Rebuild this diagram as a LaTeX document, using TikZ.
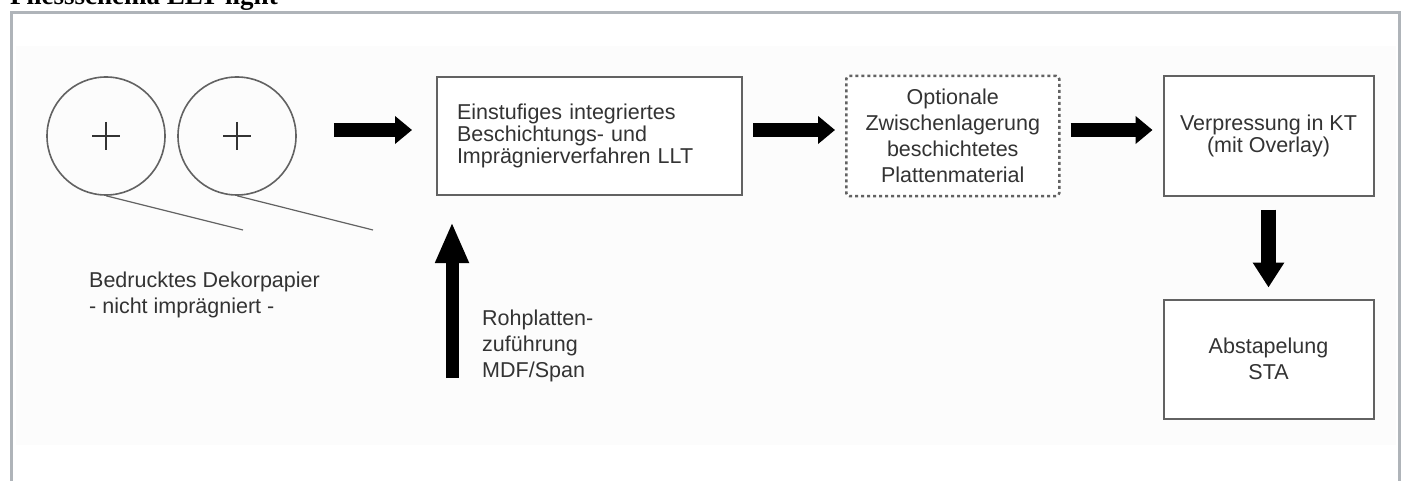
\documentclass[tikz,border=0pt]{standalone}
\usepackage{fontspec}
\setmainfont{Liberation Sans}
\newfontfamily\titlefont{Liberation Serif}
\usepackage{tikz}
\usetikzlibrary{arrows.meta}
\usetikzlibrary{positioning}
\definecolor{framegray}{HTML}{AFB4B9}
\definecolor{linegray}{HTML}{626262}
\definecolor{textgray}{HTML}{333333}
\definecolor{bggray}{HTML}{FCFCFC}

\begin{document}
\begin{tikzpicture}[x=1pt,y=-1pt,node distance=102pt,font=\fontsize{21.5}{22}\selectfont]
	\tikzstyle{box}=[draw=linegray, line width=2pt, fill=white, text=textgray, minimum width=210pt, minimum height=119pt, align=center, inner sep=0pt]
	\tikzstyle{optbox}=[box, line width=2.5pt, dash pattern=on 3pt off 3pt, rounded corners=3pt, minimum width=213pt, minimum height=120pt, font=\fontsize{21.5}{26}\selectfont]
	\tikzstyle{roll}=[draw=linegray, line width=1.6pt, circle, minimum size=118pt, inner sep=0pt]
	\tikzstyle{flow}=[line width=14pt, -{Triangle[length=17pt,width=27pt]}, shorten <=10pt, shorten >=10pt]
	\tikzstyle{notetext}=[text=textgray, align=left, inner sep=0pt, anchor=west, font=\fontsize{21.5}{26}\selectfont]

	\useasboundingbox (0,0) rectangle (1404,481);
	\fill[bggray] (16,46) rectangle (1396,445);
	\draw[framegray, line width=3pt] (11,481) -- (11,13) -- (1399,13) -- (1399,481);
	\node[anchor=base west, inner sep=0pt, font=\titlefont\bfseries\fontsize{27}{30}\selectfont] (title) at (10,5) {Fliessschema LLT light};

	\node[roll] (r1) at (106,136) {};
	\node[roll] (r2) at (237,136) {};
	\foreach \r in {r1,r2}
		\draw[textgray, line width=1.6pt] (\r.center) +(-14,0) -- +(14,0) (\r.center) +(0,-14) -- +(0,14);
	\coordinate (w1) at (243,230);
	\coordinate (w2) at (373,230);
	\draw[linegray, line width=1.2pt] (r1.south) -- (w1) (r2.south) -- (w2);

	\node[box, text width=265pt, align=left, minimum width=305pt, minimum height=118pt] (llt) at (589.5,136) {Einstufiges integriertes\\Beschichtungs- und\\Imprägnierverfahren LLT};
	\node[optbox] (store) [right=of llt] {Optionale\\Zwischenlagerung\\beschichtetes\\Plattenmaterial};
	\node[box] (press) [right=of store] {Verpressung in KT\\(mit Overlay)};
	\node[box, font=\fontsize{21.5}{26}\selectfont] (stack) [below=of press] {Abstapelung\\STA};

	\node[notetext] (paper) at (89,295) {Bedrucktes Dekorpapier\\- nicht imprägniert -};
	\coordinate (feed) at (452,378);
	\node[notetext] (board) at (482,346) {Rohplatten-\\zuführung\\MDF/Span};

	\path
		([yshift=6pt]r2.east) edge[flow, shorten <=37pt, shorten >=24pt] ([yshift=6pt]llt.west)
		([yshift=6pt]llt.east) edge[flow] ([yshift=6pt]store.west)
		([yshift=6pt]store.east) edge[flow] ([yshift=6pt]press.west)
		(press) edge[flow, line width=15pt, -{Triangle[length=25pt,width=30pt]}, shorten <=13pt, shorten >=11pt] (stack)
		(feed) edge[flow, line width=13pt, -{Triangle[length=41pt,width=31pt]}, shorten <=0pt, shorten >=26pt] (feed |- llt.south);
\end{tikzpicture}
\end{document}
